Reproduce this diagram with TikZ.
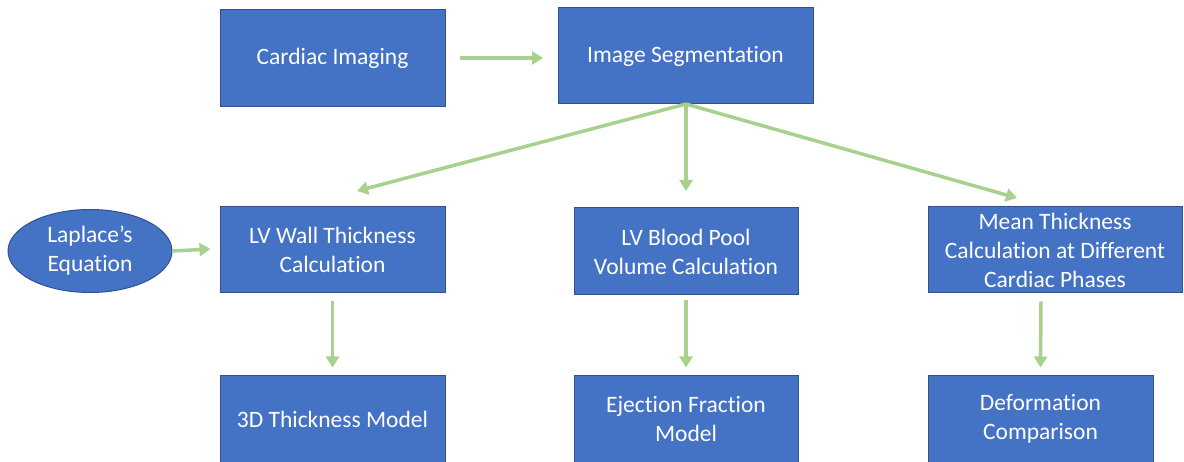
\documentclass[tikz,border=0pt]{standalone}
\usepackage{fontspec}
\setmainfont[Ligatures=NoCommon]{Carlito}
\usetikzlibrary{arrows.meta,shapes.geometric}
\definecolor{boxblue}{HTML}{4472C4}
\definecolor{boxedge}{HTML}{2F528F}
\definecolor{arrgreen}{HTML}{A9D18E}
\tikzset{
  flowbox/.style={draw=boxedge, line width=1pt, fill=boxblue, text=white, font=\fontsize{23.5}{29}\selectfont, align=center, inner sep=0pt},
  flowarrow/.style={draw=arrgreen, line width=3.5pt, -{Triangle[length=11pt,width=13pt]}},
}
\begin{document}
\begin{tikzpicture}[x=1pt,y=-1pt]
\useasboundingbox (0,0) rectangle (1184,462);
\node[flowbox, minimum width=225pt, minimum height=97pt] (ci) at (332.5,58.5) {Cardiac Imaging};
\node[flowbox, minimum width=255pt, minimum height=96pt] (is) at (685.5,56) {Image Segmentation};
\node[flowbox, minimum width=225pt, minimum height=86pt] (lw) at (332.5,250) {LV Wall Thickness\\Calculation};
\node[flowbox, minimum width=224pt, minimum height=87pt] (bp) at (686,251.5) {LV Blood Pool\\Volume Calculation};
\node[flowbox, minimum width=254pt, minimum height=86pt] (mt) at (1055,250) {Mean Thickness\\Calculation at Different\\Cardiac Phases};
\node[flowbox, minimum width=225pt, minimum height=86pt] (tm) at (332.5,419) {3D Thickness Model};
\node[flowbox, minimum width=224pt, minimum height=86pt] (ef) at (686,419) {Ejection Fraction\\Model};
\node[flowbox, minimum width=225pt, minimum height=86pt] (dc) at (1040.5,419) {Deformation\\Comparison};
\node[flowbox, ellipse, minimum width=164pt, minimum height=83pt] (lp) at (90,251) {Laplace’s\\Equation};
\coordinate (isb) at (686,104);
\coordinate (cia) at (460,58);
\coordinate (isa) at (543,58);
\draw[flowarrow] (cia) -- (isa);
\draw[flowarrow] (isb) -- (357,191);
\draw[flowarrow] (isb) -- (686,191);
\draw[flowarrow] (isb) -- (1017,198);
\draw[flowarrow] (lp.east) -- ([xshift=-9pt,yshift=1pt]lw.west);
\draw[flowarrow] ([yshift=-8pt]lw.south) -- ([yshift=8pt]tm.north);
\draw[flowarrow] ([yshift=-5pt]bp.south) -- ([yshift=8pt]ef.north);
\draw[flowarrow] ([xshift=-14pt,yshift=-8pt]mt.south) -- ([yshift=8pt]dc.north);
\end{tikzpicture}
\end{document}
